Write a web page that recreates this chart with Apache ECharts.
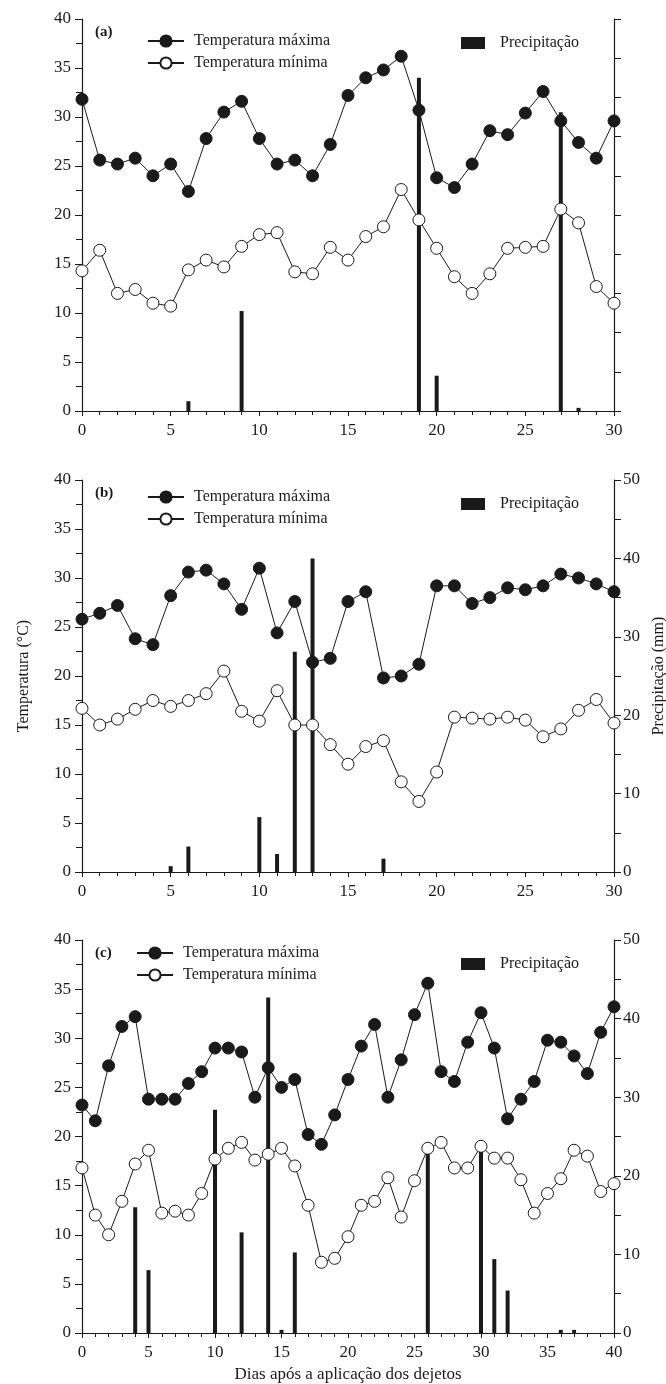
<!DOCTYPE html>
<html><head><meta charset="utf-8">
<script src="https://cdn.jsdelivr.net/npm/echarts@6/dist/echarts.min.js"></script>
<style>html,body{margin:0;padding:0;background:#fff}#c{width:666px;height:1384px}</style>
</head><body><div id="c"></div>
<script>
const days30 = [0,1,2,3,4,5,6,7,8,9,10,11,12,13,14,15,16,17,18,19,20,21,22,23,24,25,26,27,28,29,30];
const days40 = [0,1,2,3,4,5,6,7,8,9,10,11,12,13,14,15,16,17,18,19,20,21,22,23,24,25,26,27,28,29,30,31,32,33,34,35,36,37,38,39,40];

const tmaxA = [31.8,25.6,25.2,25.8,24.0,25.2,22.4,27.8,30.5,31.6,27.8,25.2,25.6,24.0,27.2,32.2,34.0,34.8,36.2,30.7,23.8,22.8,25.2,28.6,28.2,30.4,32.6,29.6,27.4,25.8,29.6];
const tminA = [14.3,16.4,12.0,12.4,11.0,10.7,14.4,15.4,14.7,16.8,18.0,18.2,14.2,14.0,16.7,15.4,17.8,18.8,22.6,19.5,16.6,13.7,12.0,14.0,16.6,16.7,16.8,20.6,19.2,12.7,11.0];
const precDaysA = [6,9,19,20,27,28];
const precA = [1.25,12.75,42.5,4.5,38.1,0.4];

const tmaxB = [25.8,26.4,27.2,23.8,23.2,28.2,30.6,30.8,29.4,26.8,31.0,24.4,27.6,21.4,21.8,27.6,28.6,19.8,20.0,21.2,29.2,29.2,27.4,28.0,29.0,28.8,29.2,30.4,30.0,29.4,28.6];
const tminB = [16.7,15.0,15.6,16.6,17.5,16.9,17.5,18.2,20.5,16.4,15.4,18.5,15.0,15.0,13.0,11.0,12.8,13.4,9.2,7.2,10.2,15.8,15.7,15.6,15.8,15.5,13.8,14.6,16.5,17.6,15.2];
const precDaysB = [5,6,10,11,12,13,17];
const precB = [0.75,3.25,7.0,2.3,28.1,40.0,1.7];

const tmaxC = [23.2,21.6,27.2,31.2,32.2,23.8,23.8,23.8,25.4,26.6,29.0,29.0,28.6,24.0,27.0,25.0,25.8,20.2,19.2,22.2,25.8,29.2,31.4,24.0,27.8,32.4,35.6,26.6,25.6,29.6,32.6,29.0,21.8,23.8,25.6,29.8,29.6,28.2,26.4,30.6,33.2];
const tminC = [16.8,12.0,10.0,13.4,17.2,18.6,12.2,12.4,12.0,14.2,17.7,18.8,19.4,17.6,18.2,18.8,17.0,13.0,7.2,7.6,9.8,13.0,13.4,15.8,11.8,15.5,18.8,19.4,16.8,16.8,19.0,17.8,17.8,15.6,12.2,14.2,15.7,18.6,18.0,14.4,15.2];
const precDaysC = [4,5,10,12,14,15,16,26,30,31,32,36,37];
const precC = [16.0,8.0,28.4,12.8,42.7,0.4,10.25,23.0,24.3,9.4,5.4,0.4,0.4];

const panelLabels = ['(a)','(b)','(c)'];
const nameMax = 'Temperatura máxima';
const nameMin = 'Temperatura mínima';
const namePrec = 'Precipitação';
const xTitle = 'Dias após a aplicação dos dejetos';
const yLeftTitle = 'Temperatura (°C)';
const yRightTitle = 'Precipitação (mm)';

const FONT = 'Liberation Serif';
const INK = '#1a1a1a';
const zip = (xs, ys) => xs.map((x, i) => [x, ys[i]]);

const panels = [
  {days: days30, tmax: tmaxA, tmin: tminA, pd: precDaysA, p: precA, xmax: 30, top: 19, h: 392, rightLabels: false, legTop: 9, legLeft: 142},
  {days: days30, tmax: tmaxB, tmin: tminB, pd: precDaysB, p: precB, xmax: 30, top: 480, h: 392, rightLabels: true, legTop: 4, legLeft: 142},
  {days: days40, tmax: tmaxC, tmin: tminC, pd: precDaysC, p: precC, xmax: 40, top: 940, h: 393, rightLabels: true, legTop: 0, legLeft: 131}
];

const axisLine = {show: true, lineStyle: {color: INK, width: 1.2}};
const lbl = {color: INK, fontFamily: FONT, fontSize: 17};

const option = {
  backgroundColor: '#fff',
  animation: false,
  grid: [], xAxis: [], yAxis: [], series: [], legend: [], graphic: []
};

panels.forEach((P, i) => {
  option.grid.push({left: 82, width: 532, top: P.top, height: P.h, containLabel: false, outerBoundsMode: 'none'});
  option.xAxis.push({
    type: 'value', gridIndex: i, min: 0, max: P.xmax, interval: 5,
    axisLine, axisTick: {show: true, inside: false, length: 5, lineStyle: {color: INK}},
    minorTick: {show: true, splitNumber: 5, length: 4, lineStyle: {color: INK}},
    splitLine: {show: false}, minorSplitLine: {show: false},
    axisLabel: Object.assign({margin: 11}, lbl),
    name: i === 2 ? xTitle : '', nameLocation: 'middle', nameGap: 33,
    nameTextStyle: {color: INK, fontFamily: FONT, fontSize: 17}
  });
  option.yAxis.push({
    type: 'value', gridIndex: i, min: 0, max: 40, interval: 5, position: 'left',
    axisLine, axisTick: {show: true, length: 7, lineStyle: {color: INK}},
    minorTick: {show: true, splitNumber: 2, length: 6, lineStyle: {color: INK}},
    splitLine: {show: false}, minorSplitLine: {show: false},
    axisLabel: Object.assign({margin: 11}, lbl),
    name: i === 1 ? yLeftTitle : '', nameLocation: 'middle', nameGap: 50, nameRotate: 90,
    nameTextStyle: {color: INK, fontFamily: FONT, fontSize: 16}
  });
  option.yAxis.push({
    type: 'value', gridIndex: i, min: 0, max: 50, interval: 5, position: 'right',
    axisLine, axisTick: {show: true, length: 7, lineStyle: {color: INK}},
    splitLine: {show: false},
    axisLabel: Object.assign({margin: 9, show: P.rightLabels,
      formatter: v => (v % 10 === 0 ? String(v) : '')}, lbl),
    name: i === 1 ? yRightTitle : '', nameLocation: 'middle', nameGap: 35, nameRotate: 90,
    nameTextStyle: {color: INK, fontFamily: FONT, fontSize: 16}
  });
  option.series.push({
    type: 'bar', name: namePrec, xAxisIndex: i, yAxisIndex: 2 * i + 1,
    data: zip(P.pd, P.p), barWidth: 4, itemStyle: {color: INK}, z: 3
  });
  option.series.push({
    type: 'line', name: nameMax, xAxisIndex: i, yAxisIndex: 2 * i,
    data: zip(P.days, P.tmax), symbol: 'circle', symbolSize: 12,
    lineStyle: {color: INK, width: 1}, itemStyle: {color: INK, borderColor: INK, borderWidth: 1}, z: 4
  });
  option.series.push({
    type: 'line', name: nameMin, xAxisIndex: i, yAxisIndex: 2 * i,
    data: zip(P.days, P.tmin), symbol: 'circle', symbolSize: 12,
    lineStyle: {color: INK, width: 1}, itemStyle: {color: '#fff', borderColor: INK, borderWidth: 1}, z: 4
  });
  option.legend.push({
    orient: 'vertical', left: P.legLeft, top: P.top + P.legTop, itemWidth: 36, itemHeight: 14, itemGap: 6,
    data: [nameMax, nameMin], selectedMode: false,
    textStyle: {color: INK, fontFamily: FONT, fontSize: 16, padding: [0, 0, 0, 5]}
  });
  option.legend.push({
    orient: 'vertical', left: 456, top: P.top + 11, itemWidth: 24, itemHeight: 12,
    data: [{name: namePrec, icon: 'rect'}], selectedMode: false,
    textStyle: {color: INK, fontFamily: FONT, fontSize: 16, padding: [0, 0, 0, 10]}
  });
  option.graphic.push({
    type: 'text', left: 95, top: P.top + 6,
    style: {text: panelLabels[i], fill: INK, font: 'bold 15px "Liberation Serif"'}
  });
});

const chart = echarts.init(document.getElementById('c'), null, {renderer: 'canvas'});
chart.setOption(option);
</script>
</body></html>
